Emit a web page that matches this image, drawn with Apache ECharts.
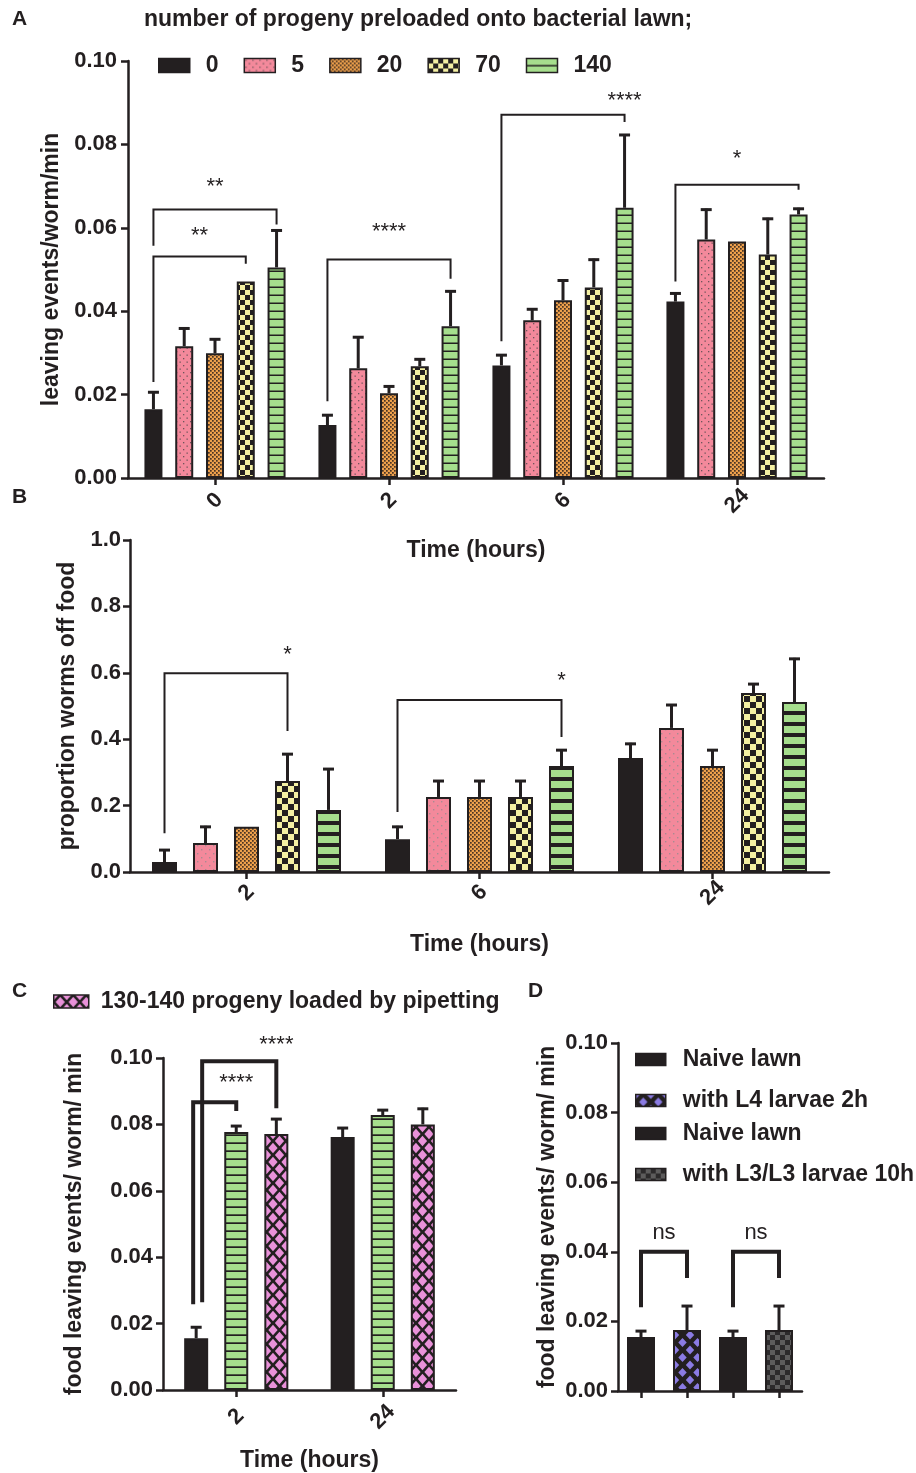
<!DOCTYPE html>
<html>
<head>
<meta charset="utf-8">
<script src="https://cdn.jsdelivr.net/npm/echarts@6/dist/echarts.min.js"></script>
<style>html,body{margin:0;padding:0;background:#fff}#chart{width:916px;height:1473px}</style>
</head>
<body>
<div id="chart"></div>
<script>
// ---------------- DATA ----------------
// Panel A: leaving events/worm/min by time (hours), per number of preloaded progeny
const aHours = ['0', '2', '6', '24'];
const aGroups = ['0', '5', '20', '70', '140'];
const aMean0 = [0.0165, 0.0127, 0.0270, 0.0423];
const aSem0 = [0.0043, 0.0026, 0.0027, 0.0022];
const aMean5 = [0.0316, 0.0263, 0.0378, 0.0572];
const aSem5 = [0.0045, 0.0077, 0.0029, 0.0074];
const aMean20 = [0.0299, 0.0203, 0.0426, 0.0567];
const aSem20 = [0.0036, 0.0019, 0.0050, 0];
const aMean70 = [0.0471, 0.0268, 0.0457, 0.0536];
const aSem70 = [0, 0.0019, 0.0069, 0.0088];
const aMean140 = [0.0505, 0.0364, 0.0648, 0.0632];
const aSem140 = [0.0091, 0.0086, 0.0177, 0.0016];

// Panel B: proportion worms off food
const bHours = ['2', '6', '24'];
const bMean0 = [0.030, 0.099, 0.343];
const bSem0 = [0.039, 0.040, 0.046];
const bMean5 = [0.087, 0.226, 0.434];
const bSem5 = [0.052, 0.051, 0.072];
const bMean20 = [0.136, 0.226, 0.319];
const bSem20 = [0, 0.051, 0.051];
const bMean70 = [0.274, 0.226, 0.539];
const bSem70 = [0.084, 0.051, 0.030];
const bMean140 = [0.187, 0.319, 0.512];
const bSem140 = [0.126, 0.051, 0.133];

// Panel C
const cHours = ['2', '24'];
const cNames = ['naive lawn', '140 progeny preloaded', '130-140 progeny loaded by pipetting'];
const cMeanNaive = [0.0156, 0.0762];
const cSemNaive = [0.0036, 0.0030];
const cMeanPreloaded = [0.0777, 0.0828];
const cSemPreloaded = [0.0021, 0.0018];
const cMeanPipetted = [0.0771, 0.0800];
const cSemPipetted = [0.0048, 0.0050];

// Panel D
const dNames = ['Naive lawn', 'with L4 larvae 2h', 'Naive lawn ', 'with L3/L3 larvae 10h'];
const dMean = [0.0155, 0.0175, 0.0155, 0.0175];
const dSem = [0.0020, 0.0072, 0.0020, 0.0072];

// Significance annotations: from/to = [category, series], values on y scale
const aBrackets = [
  {from: [0, 0], to: [0, 4], top: 0.0644, leftEnd: 0.0557, rightEnd: 0.0608, labelAt: 0.0699, text: '**', anchor: 'mid'},
  {from: [0, 0], to: [0, 3], top: 0.0531, leftEnd: 0.0230, rightEnd: 0.0514, labelAt: 0.0581, text: '**', anchor: 'mid'},
  {from: [1, 0], to: [1, 4], top: 0.0524, leftEnd: 0.0184, rightEnd: 0.0478, labelAt: 0.0589, text: '****', anchor: 'mid'},
  {from: [2, 0], to: [2, 4], top: 0.0871, leftEnd: 0.0328, rightEnd: 0.0854, labelAt: 0.0904, text: '****', anchor: 'right'},
  {from: [3, 0], to: [3, 4], top: 0.0703, leftEnd: 0.0471, rightEnd: 0.0691, labelAt: 0.0766, text: '*', anchor: 'mid'}
];
const bBrackets = [
  {from: [0, 0], to: [0, 3], top: 0.599, leftEnd: 0.117, rightEnd: 0.425, labelAt: 0.654, text: '*', anchor: 'right'},
  {from: [1, 0], to: [1, 4], top: 0.518, leftEnd: 0.181, rightEnd: 0.407, labelAt: 0.575, text: '*', anchor: 'right'}
];
const cBrackets = [
  {from: [0, 0], to: [0, 1], top: 0.0867, leftEnd: 0.0258, rightEnd: 0.0840, labelAt: 0.0924, text: '****', anchor: 'right'},
  {from: [0, 0], to: [0, 2], top: 0.0990, leftEnd: 0.0264, rightEnd: 0.0849, labelAt: 0.1038, text: '****', anchor: 'right'}
];
const dBrackets = [
  {from: [0, 0], to: [1, 0], top: 0.0400, leftEnd: 0.0241, rightEnd: 0.0325, labelAt: 0.0454, text: 'ns', anchor: 'mid'},
  {from: [2, 0], to: [3, 0], top: 0.0400, leftEnd: 0.0241, rightEnd: 0.0325, labelAt: 0.0454, text: 'ns', anchor: 'mid'}
];

// ---------------- STYLE ----------------
const INK = '#231F20';
const FONT = '"Liberation Sans", Arial, Helvetica, sans-serif';

function pattern(w, h, draw) {
  const c = document.createElement('canvas');
  c.width = w; c.height = h;
  const ctx = c.getContext('2d');
  draw(ctx, w, h);
  return {image: c, repeat: 'repeat'};
}
const PINK = '#F3899B', ORANGE = '#EDA04C', YELLOW = '#F4F0A3', GREEN = '#A6DE8D';
const pinkDots = pattern(7, 7, (g) => { g.fillStyle = PINK; g.fillRect(0, 0, 7, 7); g.fillStyle = '#6e555a'; g.fillRect(1, 1, 1.3, 1.3); g.fillRect(4.5, 4.5, 1.3, 1.3); });
const pinkDotsB = pattern(8, 8, (g) => { g.fillStyle = PINK; g.fillRect(0, 0, 8, 8); g.fillStyle = '#a98a91'; g.fillRect(1, 1, 1.4, 1.4); g.fillRect(5, 5, 1.4, 1.4); });
const orangeCheck = pattern(4, 4, (g) => { g.fillStyle = ORANGE; g.fillRect(0, 0, 4, 4); g.fillStyle = '#4a3424'; g.fillRect(0, 0, 1.7, 1.7); g.fillRect(2, 2, 1.7, 1.7); });
const yellowCheckA = pattern(10, 10, (g) => { g.fillStyle = YELLOW; g.fillRect(0, 0, 10, 10); g.fillStyle = INK; g.fillRect(0, 0, 5, 5); g.fillRect(5, 5, 5, 5); });
const yellowCheckB = pattern(12, 12, (g) => { g.fillStyle = YELLOW; g.fillRect(0, 0, 12, 12); g.fillStyle = INK; g.fillRect(0, 0, 6, 6); g.fillRect(6, 6, 6, 6); });
const greenLinesA = pattern(4, 8, (g) => { g.fillStyle = GREEN; g.fillRect(0, 0, 4, 8); g.fillStyle = INK; g.fillRect(0, 6.5, 4, 1.5); });
const greenLinesB = pattern(4, 11, (g) => { g.fillStyle = GREEN; g.fillRect(0, 0, 4, 11); g.fillStyle = INK; g.fillRect(0, 7, 4, 4); });
const greenLinesC = pattern(4, 8, (g) => { g.fillStyle = GREEN; g.fillRect(0, 0, 4, 8); g.fillStyle = INK; g.fillRect(0, 6.3, 4, 1.7); });
function diamonds(w, h, hw, hh, col) {
  return pattern(w, h, (g) => {
    g.fillStyle = INK; g.fillRect(0, 0, w, h);
    g.fillStyle = col;
    const pts = [[w / 2, h / 2], [0, 0], [w, 0], [0, h], [w, h]];
    pts.forEach(([x, y]) => { g.beginPath(); g.moveTo(x - hw, y); g.lineTo(x, y - hh); g.lineTo(x + hw, y); g.lineTo(x, y + hh); g.closePath(); g.fill(); });
  });
}
const pinkDiamond = diamonds(13, 14, 4.6, 5.2, '#E991D9');
const purpleDiamond = diamonds(15, 15, 4.2, 4.6, '#8B7BE3');
const greyCheck = pattern(10, 10, (g) => { g.fillStyle = '#2c2a2b'; g.fillRect(0, 0, 10, 10); g.fillStyle = '#5d5c5c'; g.fillRect(0, 0, 5, 5); g.fillRect(5, 5, 5, 5); });

const fillsA = [INK, pinkDots, orangeCheck, yellowCheckA, greenLinesA];
const fillsB = [INK, pinkDotsB, orangeCheck, yellowCheckB, greenLinesB];
const fillsC = [INK, greenLinesC, pinkDiamond];
const fillsD = [INK, purpleDiamond, INK, greyCheck];

const tickFont = {fontFamily: FONT, fontWeight: 'bold', fontSize: 22, color: INK};
const nameFont = {fontFamily: FONT, fontWeight: 'bold', fontSize: 23, color: INK};

function valueAxis(gridIndex, max, interval, digits, name, nameGap, margin) {
  return {
    type: 'value', gridIndex, min: 0, max, interval,
    name, nameLocation: 'middle', nameRotate: 90, nameGap, nameTextStyle: nameFont,
    axisLine: {show: true, lineStyle: {color: INK, width: 2.5}},
    axisTick: {show: true, length: 7, lineStyle: {color: INK, width: 2.5}},
    axisLabel: Object.assign({margin, formatter: (v) => v.toFixed(digits)}, tickFont),
    splitLine: {show: false}
  };
}
function catAxis(gridIndex, data, name, nameGap, showLabels, margin) {
  return {
    type: 'category', gridIndex, data,
    name, nameLocation: 'middle', nameGap, nameTextStyle: nameFont,
    axisLine: {show: true, lineStyle: {color: INK, width: 2.5}},
    axisTick: {show: true, alignWithLabel: true, length: 7, interval: 0, lineStyle: {color: INK, width: 2.5}},
    axisLabel: Object.assign({show: showLabels, rotate: 45, margin, interval: 0, align: 'center', verticalAlign: 'middle'}, tickFont),
    splitLine: {show: false}
  };
}

function barSeries(name, data, fill, axisIdx, barWidth, barGap, stack) {
  return {
    type: 'bar', name, data, xAxisIndex: axisIdx, yAxisIndex: axisIdx,
    barWidth, barGap, stack,
    itemStyle: {color: fill, borderColor: INK, borderWidth: 2},
    emphasis: {disabled: true}, z: 2
  };
}
function errorSeries(means, sems, axisIdx, seriesIdx, n, step) {
  return {
    type: 'custom', xAxisIndex: axisIdx, yAxisIndex: axisIdx, z: 3, silent: true,
    data: means.map((m, i) => [i, m, sems[i]]).filter(d => d[1] !== '-' && d[2] > 0),
    encode: {x: 0, y: 1},
    renderItem: (params, api) => {
      const c = api.value(0), m = api.value(1), e = api.value(2);
      const p0 = api.coord([c, m]), p1 = api.coord([c, m + e]);
      const x = p0[0] + (seriesIdx - (n - 1) / 2) * step;
      const st = {stroke: INK, lineWidth: 3};
      return {type: 'group', children: [
        {type: 'line', shape: {x1: x, y1: p0[1], x2: x, y2: p1[1]}, style: st},
        {type: 'line', shape: {x1: x - 5.5, y1: p1[1] + 1, x2: x + 5.5, y2: p1[1] + 1}, style: st}
      ]};
    }
  };
}
function bracketSeries(list, axisIdx, n, step, lw, fontSize, legShift) {
  return {
    type: 'custom', xAxisIndex: axisIdx, yAxisIndex: axisIdx, z: 4, silent: true,
    data: list.map(b => [b.from[0], b.top]),
    encode: {x: 0, y: 1},
    renderItem: (params, api) => {
      const b = list[params.dataIndex];
      const xOf = (c, s) => api.coord([c, 0])[0] + (s - (n - 1) / 2) * step;
      const yOf = v => api.coord([0, v])[1];
      const x1 = xOf(b.from[0], b.from[1]) + (legShift ? legShift[params.dataIndex] : 0);
      const x2 = xOf(b.to[0], b.to[1]);
      const yt = yOf(b.top);
      const tx = b.anchor === 'right' ? x2 : (x1 + x2) / 2;
      return {type: 'group', children: [
        {type: 'polyline', shape: {points: [[x1, yOf(b.leftEnd)], [x1, yt], [x2, yt], [x2, yOf(b.rightEnd)]]},
          style: {stroke: INK, lineWidth: lw, fill: null, lineJoin: 'miter', lineCap: 'butt'}},
        {type: 'text', style: {text: b.text, x: tx, y: yOf(b.labelAt), align: 'center', verticalAlign: 'middle',
          font: 'normal ' + fontSize + 'px ' + FONT, fill: INK}}
      ]};
    }
  };
}

// ---------------- BUILD ----------------
const aMeans = [aMean0, aMean5, aMean20, aMean70, aMean140];
const aSems = [aSem0, aSem5, aSem20, aSem70, aSem140];
const bMeans = [bMean0, bMean5, bMean20, bMean70, bMean140];
const bSems = [bSem0, bSem5, bSem20, bSem70, bSem140];
const cMeans = [cMeanNaive, cMeanPreloaded, cMeanPipetted];
const cSems = [cSemNaive, cSemPreloaded, cSemPipetted];

const A_BW = 18, A_GAP = 0.71, B_BW = 25, B_GAP = 0.64, C_BW = 24, C_GAP = 0.67, D_BW = 28;
const series = [];
aGroups.forEach((g, i) => series.push(barSeries(g, aMeans[i], fillsA[i], 0, A_BW, (A_GAP * 100) + '%')));
aGroups.forEach((g, i) => series.push(barSeries(g, bMeans[i], fillsB[i], 1, B_BW, (B_GAP * 100) + '%')));
cNames.forEach((g, i) => series.push(barSeries(g, cMeans[i], fillsC[i], 2, C_BW, (C_GAP * 100) + '%')));
dNames.forEach((g, i) => series.push(barSeries(g, dNames.map((_, j) => j === i ? dMean[i] : '-'), fillsD[i], 3, D_BW, '0%', 'd')));
aGroups.forEach((g, i) => series.push(errorSeries(aMeans[i], aSems[i], 0, i, 5, A_BW * (1 + A_GAP))));
aGroups.forEach((g, i) => series.push(errorSeries(bMeans[i], bSems[i], 1, i, 5, B_BW * (1 + B_GAP))));
cNames.forEach((g, i) => series.push(errorSeries(cMeans[i], cSems[i], 2, i, 3, C_BW * (1 + C_GAP))));
series.push(errorSeries(dMean, dSem, 3, 0, 1, 0));
series.push(bracketSeries(aBrackets, 0, 5, A_BW * (1 + A_GAP), 2, 22));
series.push(bracketSeries(bBrackets, 1, 5, B_BW * (1 + B_GAP), 2, 22));
series.push(bracketSeries(cBrackets, 2, 3, C_BW * (1 + C_GAP), 4, 22, [-3, 6]));
series.push(bracketSeries(dBrackets, 3, 1, 0, 4, 22));

const legendTextA = {fontFamily: FONT, fontWeight: 'bold', fontSize: 23, color: INK, padding: [0, 0, 0, 11]};
const legendTextC = {fontFamily: FONT, fontWeight: 'bold', fontSize: 23, color: INK, padding: [0, 0, 0, 7]};
const legendTextD = {fontFamily: FONT, fontWeight: 'bold', fontSize: 23, color: INK, padding: [0, 0, 0, 12]};
const legendIcon = {borderColor: INK, borderWidth: 1.5};

const option = {
  animation: false,
  backgroundColor: '#fff',
  title: {text: 'number of progeny preloaded onto bacterial lawn;', left: 144, top: 8, padding: 0,
    textStyle: {fontFamily: FONT, fontWeight: 'bold', fontSize: 23, color: INK}},
  graphic: [
    {type: 'text', left: 12, top: 9, style: {text: 'A', font: 'bold 21px ' + FONT, fill: INK}},
    {type: 'text', left: 12, top: 487, style: {text: 'B', font: 'bold 21px ' + FONT, fill: INK}},
    {type: 'text', left: 12, top: 981, style: {text: 'C', font: 'bold 21px ' + FONT, fill: INK}},
    {type: 'text', left: 528, top: 981, style: {text: 'D', font: 'bold 21px ' + FONT, fill: INK}}
  ],
  legend: [
    {data: aGroups, left: 158, top: 54, padding: 0, itemWidth: 31, itemHeight: 14, itemGap: 25,
      icon: 'rect', textStyle: legendTextA, itemStyle: legendIcon, selectedMode: false},
    {data: [cNames[2]], left: 53, top: 990, padding: 0, itemWidth: 35, itemHeight: 13,
      icon: 'rect', textStyle: legendTextC, itemStyle: legendIcon, selectedMode: false},
    {data: [dNames[0], dNames[1]], orient: 'vertical', left: 635, top: 1048, padding: 0, itemWidth: 30, itemHeight: 12, itemGap: 18,
      icon: 'rect', textStyle: legendTextD, itemStyle: legendIcon, selectedMode: false},
    {data: [dNames[2], dNames[3]], orient: 'vertical', left: 635, top: 1122, padding: 0, itemWidth: 30, itemHeight: 12, itemGap: 18,
      icon: 'rect', textStyle: legendTextD, itemStyle: legendIcon, selectedMode: false}
  ],
  grid: [
    {left: 128, top: 61, width: 696, height: 417},
    {left: 130, top: 540, width: 699, height: 332},
    {left: 163, top: 1058, width: 293, height: 333},
    {left: 618, top: 1043, width: 184, height: 348}
  ],
  xAxis: [
    catAxis(0, aHours, 'Time (hours)', 61, true, 23),
    catAxis(1, bHours, 'Time (hours)', 61, true, 21),
    catAxis(2, cHours, 'Time (hours)', 59, true, 27),
    catAxis(3, dNames, '', 20, false, 10)
  ],
  yAxis: [
    valueAxis(0, 0.10, 0.02, 2, 'leaving events/worm/min', 64, 11),
    valueAxis(1, 1.0, 0.2, 1, 'proportion worms off food', 51, 9),
    valueAxis(2, 0.10, 0.02, 2, 'food leaving events/ worm/ min', 77, 10),
    valueAxis(3, 0.10, 0.02, 2, 'food leaving events/ worm/ min', 59, 10)
  ],
  series
};
const chart = echarts.init(document.getElementById('chart'), null, {renderer: 'canvas'});
chart.setOption(option);
</script>
</body>
</html>
